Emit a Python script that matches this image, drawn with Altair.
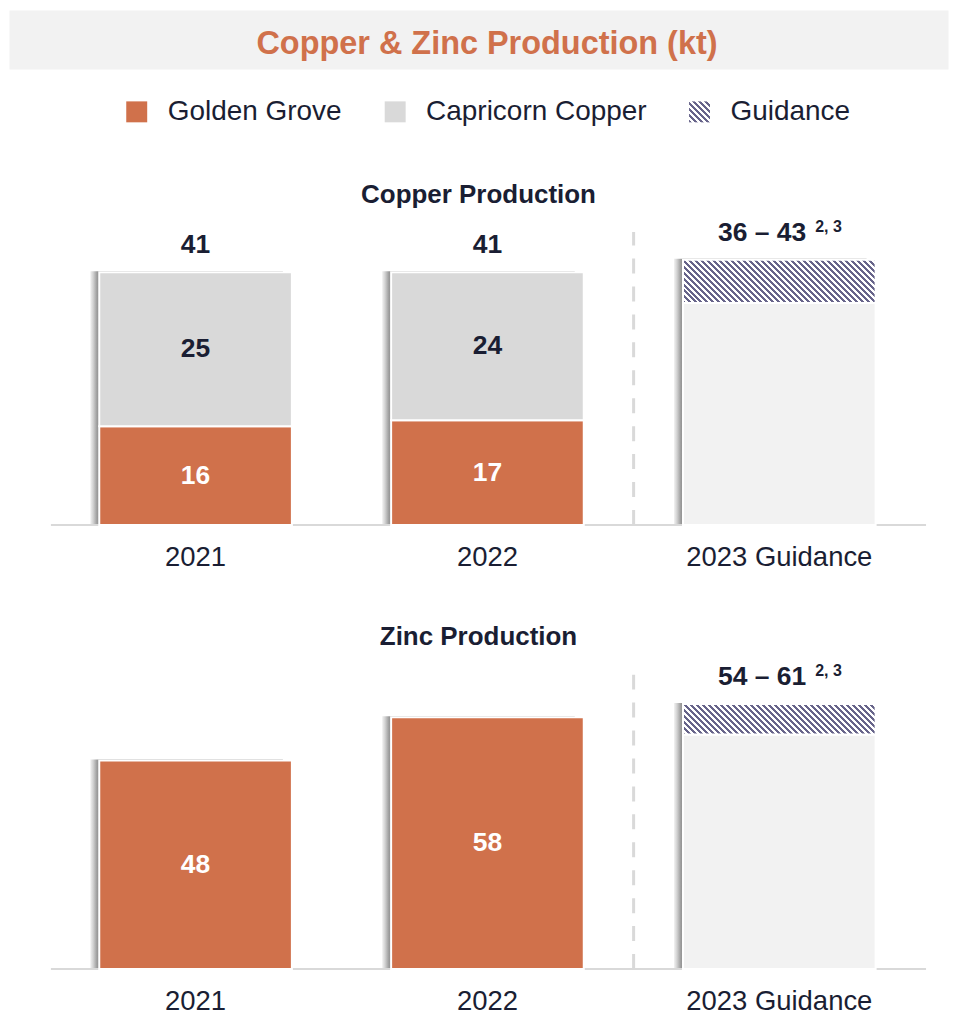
import altair as alt
import pandas as pd

# ---------------- data ----------------
chart_title = "Copper & Zinc Production (kt)"
years = ["2021", "2022", "2023 Guidance"]
actual_years = ["2021", "2022"]
series = ["Golden Grove", "Capricorn Copper", "Guidance"]

copper_golden_grove = [16, 17]
copper_capricorn = [25, 24]
copper_totals = [41, 41]
copper_guidance = [36, 43]

zinc_golden_grove = [48, 58]
zinc_guidance = [54, 61]

guidance_note = "2, 3"

# ---------------- style ----------------
ORANGE = "#d0714b"
GREY = "#d9d9d9"
LIGHT = "#f2f2f2"
HATCH = "#67648a"
DARK = "#1a1e33"
RULE = "#d9d9d9"
FONT = "Liberation Sans"

W = 941
PANEL_H = 309
BAR_W = 193
COPPER_MAX = 50
ZINC_MAX = 71
PERIOD = 6.0


def hatch_stops(length):
    stops = []
    n = int(length / PERIOD) + 1
    for k in range(n):
        o0 = min(1.0, k * PERIOD / length)
        o1 = min(1.0, (k + 0.5) * PERIOD / length)
        o2 = min(1.0, (k + 1) * PERIOD / length)
        stops += [(o0, HATCH), (o1, HATCH), (o1, "#ffffff"), (o2, "#ffffff")]
    return stops


def hatch_gradient(w, h):
    a = (w + h) / (w * w + h * h)
    return {
        "gradient": "linear",
        "x1": 0, "y1": 1, "x2": a * w, "y2": 1 - a * h,
        "stops": [{"offset": o, "color": c} for o, c in hatch_stops(w + h)],
    }


def legend_hatch_expr():
    parts = ",".join("{offset:%.4f,color:'%s'}" % (o, c) for o, c in hatch_stops(42))
    return "{gradient:'linear',x1:0,y1:1,x2:1,y2:0,stops:[" + parts + "]}"


shadow_gradient = {
    "gradient": "linear", "x1": 0, "y1": 0, "x2": 1, "y2": 0,
    "stops": [
        {"offset": 0, "color": "#f2f2f2"},
        {"offset": 0.015, "color": "#d2d2d2"},
        {"offset": 0.032, "color": "#a4a4a4"},
        {"offset": 0.047, "color": "#888888"},
        {"offset": 1, "color": "#888888"},
    ],
}

color_scale = alt.Scale(
    domain=series,
    range=[ORANGE, GREY, {"expr": legend_hatch_expr()}],
)
legend = alt.Legend(
    orient="none", legendX=114, legendY=88, direction="horizontal", title=None,
    symbolType="square", symbolSize=441, symbolStrokeWidth=0,
    labelFontSize=28, labelColor=DARK, labelFont=FONT, labelOffset=17,
    columnPadding=39, labelLimit=500, padding=0,
)

xscale = alt.Scale(domain=years, paddingInner=0.34, paddingOuter=0.2786, align=0.555)
xaxis = alt.Axis(title=None, labelAngle=0, domain=False, ticks=False, grid=False,
                 labelFontSize=27.5, labelColor=DARK, labelFont=FONT, labelPadding=19,
                 labelLimit=400)
xenc = alt.X("year:N", scale=xscale, axis=xaxis, sort=years)


def panel(title, gg, cc, guide, ymax, dash_top, title_offset, totals=None):
    px = PANEL_H / ymax
    ys = alt.Scale(domain=[0, ymax], nice=False, zero=True)

    seg_rows = []
    for i, yr in enumerate(actual_years):
        seg_rows.append({"year": yr, "series": "Golden Grove", "start": 0, "end": gg[i],
                         "value": gg[i], "mid": gg[i] / 2})
        if cc is not None:
            seg_rows.append({"year": yr, "series": "Capricorn Copper", "start": gg[i],
                             "end": gg[i] + cc[i], "value": cc[i], "mid": gg[i] + cc[i] / 2})
    seg = pd.DataFrame(seg_rows)
    tops = seg.groupby("year", as_index=False)["end"].max()
    guide_df = pd.DataFrame({"year": [years[2]], "lo": [guide[0]], "hi": [guide[1]],
                             "label": [f"{guide[0]} \u2013 {guide[1]}"], "note": [guidance_note]})
    shadow = pd.concat([tops.rename(columns={"end": "top"}),
                        pd.DataFrame({"year": [years[2]], "top": [guide[1]]})])

    base_rule = alt.Chart(pd.DataFrame({"v": [0]})).mark_rule(color=RULE, strokeWidth=2).encode(
        x=alt.value(42), x2=alt.value(919), y=alt.Y("v:Q", scale=ys, axis=None))
    dash = alt.Chart(pd.DataFrame({"year": [years[2]], "lo": [0], "hi": [dash_top]})).mark_rule(
        color=RULE, strokeWidth=3, strokeDash=[15, 13], xOffset=-146).encode(
        x=xenc, y=alt.Y("lo:Q", scale=ys, axis=None), y2="hi:Q")
    shad = alt.Chart(shadow).mark_bar(xOffset=-9, yOffset=-1, fill=shadow_gradient).encode(
        x=xenc, y=alt.Y("top:Q", scale=ys, axis=None))
    bars = alt.Chart(seg).mark_bar(stroke="white", strokeWidth=2).encode(
        x=xenc, y=alt.Y("start:Q", scale=ys, axis=None), y2="end:Q",
        color=alt.Color("series:N", scale=color_scale, legend=legend))
    light = alt.Chart(guide_df).mark_bar(fill=LIGHT, stroke="white", strokeWidth=2).encode(
        x=xenc, y=alt.Y("lo:Q", scale=ys, axis=None))
    hatch = alt.Chart(guide_df).mark_bar(
        fill=hatch_gradient(BAR_W, (guide[1] - guide[0]) * px), stroke="white", strokeWidth=2).encode(
        x=xenc, y=alt.Y("lo:Q", scale=ys, axis=None), y2="hi:Q")

    txt = dict(fontSize=26.5, fontWeight="bold", font=FONT)
    gg_lab = alt.Chart(seg[seg.series == "Golden Grove"]).mark_text(
        color="white", baseline="middle", **txt).encode(
        x=xenc, y=alt.Y("mid:Q", scale=ys, axis=None), text="value:Q")
    layers = [dash, base_rule, shad, bars, light, hatch, gg_lab]
    if cc is not None:
        cc_lab = alt.Chart(seg[seg.series == "Capricorn Copper"]).mark_text(
            color=DARK, baseline="middle", **txt).encode(
            x=xenc, y=alt.Y("mid:Q", scale=ys, axis=None), text="value:Q")
        layers.append(cc_lab)
    if totals is not None:
        tot_df = pd.DataFrame({"year": actual_years, "total": totals})
        tot = alt.Chart(tot_df).mark_text(color=DARK, baseline="alphabetic", dy=-19, **txt).encode(
            x=xenc, y=alt.Y("total:Q", scale=ys, axis=None), text="total:Q")
        layers.append(tot)
    g_main = alt.Chart(guide_df).mark_text(color=DARK, baseline="alphabetic", align="right",
                                           dx=27, dy=-19, **txt).encode(
        x=xenc, y=alt.Y("hi:Q", scale=ys, axis=None), text="label:N")
    g_note = alt.Chart(guide_df).mark_text(color=DARK, baseline="alphabetic", align="left",
                                           dx=36, dy=-28, fontSize=16, fontWeight="bold",
                                           font=FONT).encode(
        x=xenc, y=alt.Y("hi:Q", scale=ys, axis=None), text="note:N")
    layers += [g_main, g_note]

    return alt.layer(*layers).properties(
        width=W, height=PANEL_H,
        title=alt.TitleParams(title, fontSize=26, fontWeight="bold", color=DARK, font=FONT,
                              anchor="middle", offset=title_offset),
    )


copper = panel("Copper Production", copper_golden_grove, copper_capricorn, copper_guidance,
               COPPER_MAX, 47.5, 9, totals=copper_totals)
zinc = panel("Zinc Production", zinc_golden_grove, None, zinc_guidance,
             ZINC_MAX, 69, 11)

header = alt.Chart(pd.DataFrame({"t": [chart_title]})).mark_text(
    fontSize=32.5, fontWeight="bold", color=ORANGE, baseline="middle", align="center", font=FONT
).encode(text="t:N", x=alt.value(479), y=alt.value(34)).properties(
    width=W, height=59, view=alt.ViewBackground(fill=LIGHT, stroke="transparent"))

chart = alt.vconcat(header, alt.vconcat(copper, zinc, spacing=51), spacing=111).properties(
    padding=0, background="white"
).configure(font=FONT).configure_view(stroke="transparent")

chart.save("out.html", embed_options={"renderer": "svg", "actions": False})
